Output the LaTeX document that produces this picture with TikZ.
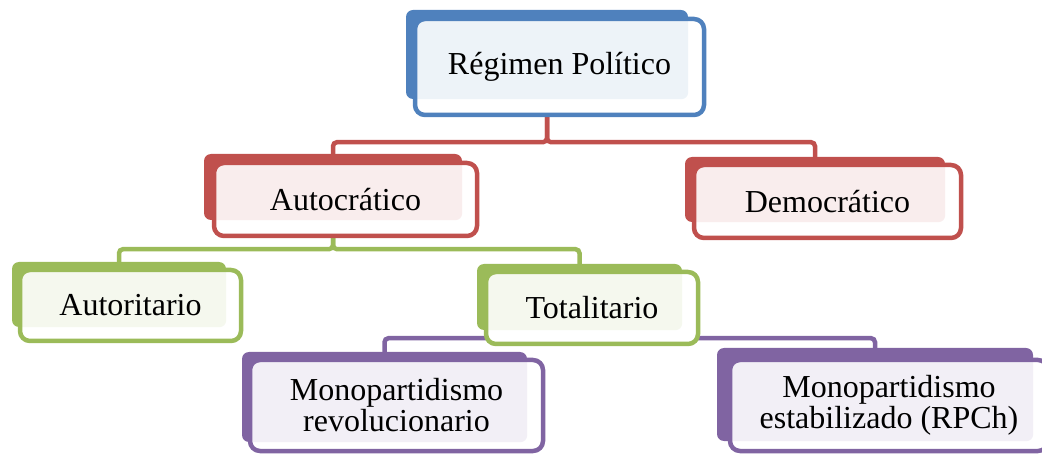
\documentclass[tikz,border=0pt]{standalone}
\usepackage{fontspec}
\setmainfont{Liberation Serif}
\usetikzlibrary{backgrounds}
\definecolor{azul}{HTML}{4F81BD}
\definecolor{rojo}{HTML}{C0504D}
\definecolor{verde}{HTML}{9BBB59}
\definecolor{morado}{HTML}{8064A2}
\begin{document}
\begin{tikzpicture}[x=1pt, y=-1pt,
  fondo/.style = {shape=rectangle, rounded corners=7pt, fill=#1, inner sep=0pt},
  marco/.style 2 args = {shape=rectangle, rounded corners=10pt, draw=#1,
    line width=4.5pt, fill=white, align=center, inner sep=0pt,
    font=\fontsize{32}{31}\selectfont,
    path picture={\fill[#1!10!white, rounded corners=7pt]
      (#2.north west) rectangle (#2.south east);}},
  enlace/.style = {draw=#1, line width=4.5pt, rounded corners=4pt}]
  \useasboundingbox (0,0) rectangle (1042,454);

  \node[fondo=azul, minimum width=282pt, minimum height=89pt] (reg) at (547,54.5) {};
  \node[marco={azul}{reg}, minimum width=289pt, minimum height=96pt] (reg-f) at (559.5,67) {Régimen Político};

  \node[fondo=rojo, minimum width=258pt, minimum height=66pt] (autoc) at (333,187) {};
  \node[marco={rojo}{autoc}, minimum width=263pt, minimum height=73pt] (autoc-f) at (345.5,199.5) {Autocrático};

  \node[fondo=rojo, minimum width=260pt, minimum height=65pt] (democ) at (815,189.5) {};
  \node[marco={rojo}{democ}, minimum width=267pt, minimum height=73pt] (democ-f) at (827.5,201.5) {Democrático};

  \node[fondo=verde, minimum width=214pt, minimum height=65pt] (autor) at (119,294.5) {};
  \node[marco={verde}{autor}, minimum width=221pt, minimum height=71pt] (autor-f) at (130.5,305.5) {Autoritario};

  \node[fondo=verde, minimum width=205pt, minimum height=66pt] (total) at (579.5,297) {};
  \node[marco={verde}{total}, minimum width=212pt, minimum height=72pt] (total-f) at (592,308) {Totalitario};

  \node[fondo=morado, minimum width=285pt, minimum height=90pt] (monorev) at (384.5,397) {};
  \node[marco={morado}{monorev}, minimum width=293pt, minimum height=91pt] (monorev-f) at (396.5,405.5) {Monopartidismo\\revolucionario};

  \node[fondo=morado, minimum width=316pt, minimum height=93pt] (monoest) at (875,394.5) {};
  \node[marco={morado}{monoest}, minimum width=318pt, minimum height=91pt] (monoest-f) at (889,405.5) {Monopartidismo\\estabilizado (RPCh)};

  % conectores detras de las cajas
  \begin{scope}[on background layer]
    \draw[enlace=rojo] (reg.south) -- ++(0,43) -| (autoc.north);
    \draw[enlace=rojo] (reg.south) -- ++(0,43) -| (democ.north);
    \draw[enlace=verde] (autoc.south) -- ++(0,29) -| (autor.north);
    \draw[enlace=verde] (autoc.south) -- ++(0,29) -| (total.north);
    \draw[enlace=morado] (total.south) -- ++(0,8) -| (monorev.north);
    \draw[enlace=morado] (total.south) -- ++(0,8) -| (monoest.north);
  \end{scope}
\end{tikzpicture}
\end{document}
